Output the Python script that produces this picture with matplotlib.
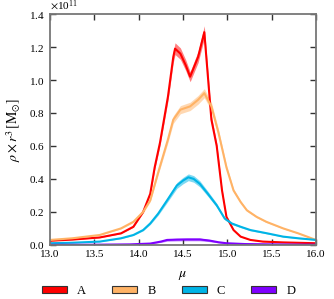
import numpy as np
import matplotlib
matplotlib.use("Agg")
import matplotlib.pyplot as plt
from matplotlib.patches import Patch

plt.rcParams["font.family"] = ["Liberation Serif", "DejaVu Serif"]
plt.rcParams["mathtext.fontset"] = "stix"
plt.rcParams["font.size"] = 8

labels = ["A", "B", "C", "D"]
colors = ["#ff0000", "#ffb366", "#00b4e6", "#7f00ff"]

# values in units of 1e11
mu_a = [13.0, 13.25, 13.56, 13.8, 13.94, 14.05, 14.13, 14.18, 14.24, 14.33, 14.39,
        14.41, 14.47, 14.53, 14.58, 14.67, 14.74, 14.82, 14.88, 14.94, 14.99,
        15.07, 15.15, 15.26, 15.4, 15.63, 16.0]
rho_a = [0.025, 0.032, 0.045, 0.07, 0.11, 0.20, 0.31, 0.47, 0.62, 0.90, 1.14,
         1.19, 1.16, 1.09, 1.02, 1.14, 1.29, 0.76, 0.60, 0.33, 0.17,
         0.09, 0.05, 0.03, 0.02, 0.015, 0.01]

mu_b = [13.0, 13.25, 13.56, 13.8, 13.94, 14.05, 14.13, 14.22, 14.33, 14.39, 14.47,
        14.58, 14.67, 14.74, 14.82, 14.9, 14.99, 15.07, 15.15, 15.22, 15.33,
        15.44, 15.63, 15.8, 16.0]
rho_b = [0.03, 0.04, 0.06, 0.1, 0.14, 0.20, 0.27, 0.44, 0.64, 0.76, 0.82,
         0.84, 0.88, 0.92, 0.84, 0.68, 0.47, 0.33, 0.26, 0.21, 0.17,
         0.14, 0.10, 0.07, 0.03]

mu_c = [13.0, 13.25, 13.56, 13.8, 13.94, 14.05, 14.13, 14.22, 14.32, 14.43, 14.5,
        14.56, 14.62, 14.69, 14.78, 14.88, 14.97, 15.05, 15.15, 15.26, 15.45,
        15.63, 15.8, 16.0]
rho_c = [0.01, 0.013, 0.02, 0.04, 0.06, 0.09, 0.13, 0.19, 0.27, 0.36, 0.39,
         0.41, 0.40, 0.37, 0.31, 0.24, 0.16, 0.13, 0.11, 0.09, 0.07,
         0.05, 0.04, 0.03]

mu_d = [13.0, 13.5, 13.9, 14.13, 14.25, 14.32, 14.43, 14.55, 14.69, 14.8, 14.9,
        14.99, 15.2, 15.5, 16.0]
rho_d = [0.0, 0.001, 0.003, 0.008, 0.02, 0.03, 0.032, 0.033, 0.033, 0.026, 0.016,
         0.01, 0.005, 0.003, 0.001]

band = [0.03, 0.03, 0.05, 0.25]

fig = plt.figure(figsize=(3.34, 2.99), dpi=100)
ax = fig.add_axes([0.150, 0.181, 0.796, 0.772])

series = [(mu_a, rho_a), (mu_b, rho_b), (mu_c, rho_c), (mu_d, rho_d)]
for (x, y), c, b in zip(series, colors, band):
    x = np.array(x)
    y = np.array(y) * 1e11
    ax.fill_between(x, y * (1 - b), y * (1 + b), color=c, alpha=0.5, lw=0)
    ax.plot(x, y, color=c, lw=1.5)

ax.set_xlim(13.0, 16.0)
ax.set_ylim(0, 1.4e11)
ax.set_xticks([13.0, 13.5, 14.0, 14.5, 15.0, 15.5, 16.0])
ax.set_yticks(np.arange(0, 1.41e11, 0.2e11))
ax.ticklabel_format(axis="y", style="sci", scilimits=(0, 0), useMathText=True)
ax.tick_params(direction="in", top=True, right=True, length=4, width=1, colors="#333333",
               labelcolor="black", pad=4)
for s in ax.spines.values():
    s.set_color("#777777")
    s.set_linewidth(1.3)

ax.set_xlabel(r"$\mu$", labelpad=7, fontsize=10)
ax.set_ylabel(r"$\rho \times r^3\,[\mathrm{M}_{\odot}]$", fontsize=10)

handles = [Patch(facecolor=c, edgecolor="#333333", lw=0.8) for c in colors]
fig.legend(handles, labels, loc="lower center", ncol=4, frameon=False,
           bbox_to_anchor=(0.505, -0.03), handlelength=2.0, handleheight=0.5,
           columnspacing=2.1, handletextpad=0.8, fontsize=9)

fig.savefig("out.png", dpi=100)
